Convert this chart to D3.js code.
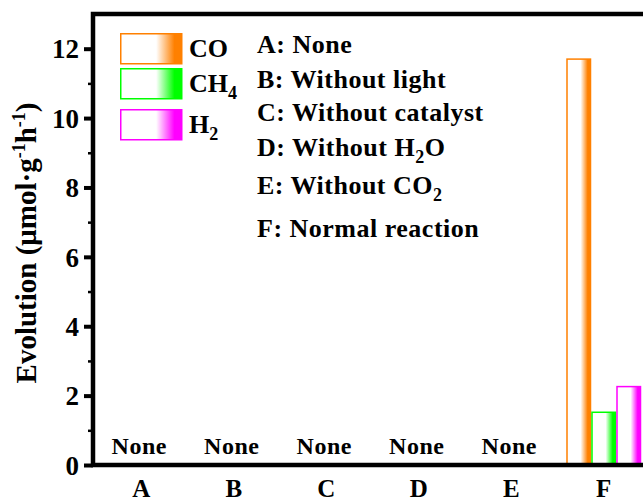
<!DOCTYPE html>
<html>
<head>
<meta charset="utf-8">
<script src="https://cdn.jsdelivr.net/npm/d3@7"></script>
<style>
  body { margin: 0; background: #fff; }
  text { font-family: "Liberation Serif", "Times New Roman", serif; font-weight: bold; fill: #000; }
</style>
</head>
<body>
<svg id="chart"></svg>
<script>
// data
const categories = ['A', 'B', 'C', 'D', 'E', 'F'];
const series = ['CO', 'CH4', 'H2'];
const co_values = [0, 0, 0, 0, 0, 11.7];
const ch4_values = [0, 0, 0, 0, 0, 1.52];
const h2_values = [0, 0, 0, 0, 0, 2.26];
const y_ticks = [0, 2, 4, 6, 8, 10, 12];
const y_minor = [1, 3, 5, 7, 9, 11];
const conditions = ['A: None', 'B: Without light', 'C: Without catalyst',
  'D: Without H|2|O', 'E: Without CO|2|', 'F: Normal reaction'];

const width = 643;
const height = 499;
const colors = { CO: '#ff8000', CH4: '#00ff00', H2: '#ff00ff' };
const labels = { CO: ['CO', ''], CH4: ['CH', '4'], H2: ['H', '2'] };

const plot_left = 93;
const plot_top = 14;
const plot_bottom = 465;
const plot_right = 660;

const svg = d3.select('#chart')
  .attr('width', width)
  .attr('height', height);

// gradients: white on the left fading into the solid colour on the right
const defs = svg.append('defs');
series.forEach((s) => {
  const g = defs.append('linearGradient')
    .attr('id', `grad-${s}`)
    .attr('x1', 0).attr('x2', 1).attr('y1', 0).attr('y2', 0);
  g.append('stop').attr('offset', 0).attr('stop-color', '#fff');
  g.append('stop').attr('offset', 0.58).attr('stop-color', '#fff');
  g.append('stop').attr('offset', 0.88).attr('stop-color', colors[s]);
  g.append('stop').attr('offset', 1).attr('stop-color', colors[s]);
});

const y = d3.scaleLinear().domain([0, 13]).range([plot_bottom, plot_top]);
const x = d3.scaleBand().domain(categories).range([95, 650]);
const xi = d3.scaleBand().domain(series).range([-37.5, 37.5]);

const rows = categories.map((c, i) => ({
  cat: c,
  CO: co_values[i],
  CH4: ch4_values[i],
  H2: h2_values[i],
}));

// bars
const groups = svg.append('g').selectAll('g')
  .data(rows)
  .enter().append('g')
  .attr('transform', (d) => `translate(${x(d.cat) + x.bandwidth() / 2},0)`);

groups.selectAll('rect')
  .data((d) => series.map((s) => ({ s, v: d[s] })).filter((e) => e.v > 0))
  .enter().append('rect')
  .attr('x', (e) => xi(e.s) + 0.75)
  .attr('width', xi.bandwidth() - 1.5)
  .attr('y', (e) => y(e.v))
  .attr('height', (e) => y(0) - y(e.v))
  .attr('fill', (e) => `url(#grad-${e.s})`)
  .attr('stroke', (e) => colors[e.s])
  .attr('stroke-width', 1.5);

// "None" for the categories with nothing measured
groups.filter((d) => series.every((s) => d[s] === 0))
  .append('text')
  .attr('x', -2)
  .attr('y', 454)
  .attr('text-anchor', 'middle')
  .style('font-size', '24px')
  .style('letter-spacing', '0.5px')
  .text('None');

// y axis, major + minor
const yAxis = svg.append('g')
  .attr('transform', `translate(${plot_left},0)`)
  .call(d3.axisLeft(y).tickValues(y_ticks).tickSize(9).tickPadding(5));
yAxis.selectAll('text').style('font-size', '27px').attr('dy', '0.34em');
yAxis.selectAll('line').attr('stroke-width', 4);
yAxis.select('.domain').remove();

const yMinor = svg.append('g')
  .attr('transform', `translate(${plot_left},0)`)
  .call(d3.axisLeft(y).tickValues(y_minor).tickSize(5).tickFormat(''));
yMinor.selectAll('line').attr('stroke-width', 2.5);
yMinor.select('.domain').remove();

// x axis
const xAxis = svg.append('g')
  .attr('transform', `translate(0,${plot_bottom})`)
  .call(d3.axisBottom(x).tickSize(0).tickPadding(14));
xAxis.selectAll('text').style('font-size', '25px');
xAxis.select('.domain').remove();

// frame: left, bottom, top
svg.append('path')
  .attr('d', `M${plot_right},${plot_top}H${plot_left}V${plot_bottom}H${plot_right}`)
  .attr('fill', 'none')
  .attr('stroke', '#000')
  .attr('stroke-width', 4.5)
  .attr('stroke-linecap', 'square');

// y axis title
const title = svg.append('text')
  .attr('transform', 'translate(36,243) rotate(-90)')
  .attr('text-anchor', 'middle')
  .style('font-size', '29px');
title.append('tspan').text('Evolution (μmol·g');
title.append('tspan').attr('dy', -11).style('font-size', '18px').text('-1');
title.append('tspan').attr('dy', 11).text('h');
title.append('tspan').attr('dy', -11).style('font-size', '18px').text('-1');
title.append('tspan').attr('dy', 11).text(')');

// legend for the series
const legend_y = [33, 68, 109];
const legend = svg.append('g').selectAll('g')
  .data(series)
  .enter().append('g')
  .attr('transform', (s, i) => `translate(120,${legend_y[i]})`);
legend.append('rect')
  .attr('x', 0.75).attr('y', 0.75)
  .attr('width', 61).attr('height', 30)
  .attr('fill', (s) => `url(#grad-${s})`)
  .attr('stroke', (s) => colors[s])
  .attr('stroke-width', 1.5);
const lt = legend.append('text')
  .attr('x', 69)
  .attr('y', 24)
  .style('font-size', '26px');
lt.append('tspan').text((s) => labels[s][0]);
lt.append('tspan').attr('dy', 7).style('font-size', '18px').text((s) => labels[s][1]);

// condition list
const cond_y = [53, 88, 121, 156, 194, 237];
const ct = svg.append('g').selectAll('text')
  .data(conditions)
  .enter().append('text')
  .attr('x', 257)
  .attr('y', (d, i) => cond_y[i])
  .style('font-size', '26px')
  .style('letter-spacing', '0.5px');
ct.each(function (d) {
  const parts = d.split('|');
  const t = d3.select(this);
  parts.forEach((p, k) => {
    if (!p) return;
    if (k % 2 === 1) {
      t.append('tspan').attr('dy', 7).style('font-size', '18px').text(p);
    } else {
      t.append('tspan').attr('dy', k > 0 ? -7 : 0).text(p);
    }
  });
});
</script>
</body>
</html>
